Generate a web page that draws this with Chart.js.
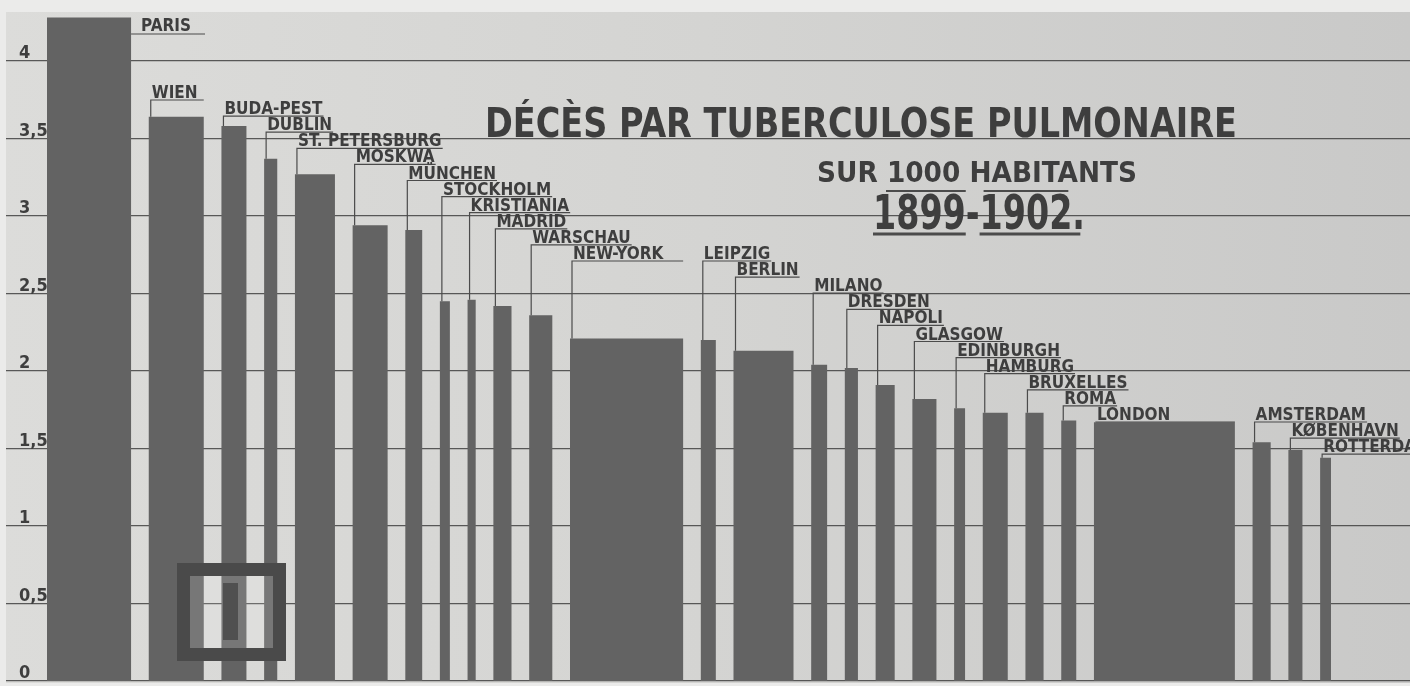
<!DOCTYPE html>
<html>
<head>
<meta charset="utf-8">
<script src="https://cdn.jsdelivr.net/npm/chart.js@4.4.1/dist/chart.umd.min.js"></script>
<style>
  html, body { margin: 0; padding: 0; background: #e8e8e6; }
  #wrap { width: 1410px; height: 686px; }
</style>
</head>
<body>
<div id="wrap"><canvas id="tbChart" width="1410" height="686"></canvas></div>
<script>
// villes, décès par tuberculose pulmonaire sur 1000 habitants (1899-1902)
var cities = ['PARIS', 'WIEN', 'BUDA-PEST', 'DUBLIN', 'ST. PETERSBURG', 'MOSKWA', 'MÜNCHEN',
  'STOCKHOLM', 'KRISTIANIA', 'MADRID', 'WARSCHAU', 'NEW-YORK', 'LEIPZIG', 'BERLIN', 'MILANO',
  'DRESDEN', 'NAPOLI', 'GLASGOW', 'EDINBURGH', 'HAMBURG', 'BRUXELLES', 'ROMA', 'LONDON',
  'AMSTERDAM', 'KØBENHAVN', 'ROTTERDAM'];
var deaths = [4.28, 3.64, 3.58, 3.37, 3.27, 2.94, 2.91, 2.45, 2.46, 2.42, 2.36, 2.21, 2.20,
  2.13, 2.04, 2.02, 1.91, 1.82, 1.76, 1.73, 1.73, 1.68, 1.67, 1.54, 1.49, 1.44];
// largeur des colonnes : population (milliers d'habitants, estimée)
var population = [2690, 1760, 800, 420, 1280, 1120, 540, 320, 260, 580, 740, 3620, 480, 1920,
  510, 420, 610, 770, 350, 800, 580, 480, 4510, 580, 450, 350];
var yTicks = [0, 0.5, 1, 1.5, 2, 2.5, 3, 3.5, 4];

// mise en page
var GAP = 566;                 // espace entre colonnes (même unité que population)
var labelRow = [null, 0, 1, 2, 3, 4, 5, 6, 7, 8, 9, 10, 10, 11, 12, 13, 14, 15, 16, 17, 18,
  19, 20, 20, 21, 22];
var BAR = '#636363', INK = '#3e3e3e', LINE = '#4b4b4b';
var FAMILY = '"DejaVu Sans Condensed", "DejaVu Sans", sans-serif';
var LABEL_FONT = 'bold 17px ' + FAMILY;

// colonnes -> ligne en escalier (bord gauche = valeur, bord droit = 0)
var lefts = [], steps = [];
var pos = 0;
for (var i = 0; i < cities.length; i++) {
  lefts.push(pos);
  steps.push({x: pos, y: deaths[i]});
  pos += population[i];
  steps.push({x: pos, y: 0});
  pos += GAP;
}

function fitText(ctx, text, x, y, w) {      // texte étiré à la largeur w
  var m = ctx.measureText(text).width;
  ctx.save();
  ctx.translate(x, y);
  ctx.scale(w / m, 1);
  ctx.fillText(text, 0, 0);
  ctx.restore();
  return w / m;
}

var paper = {
  id: 'paper',
  beforeDraw: function (chart) {
    var ctx = chart.ctx;
    var g = ctx.createLinearGradient(0, 0, 1410, 0);
    g.addColorStop(0, '#dcdcda');
    g.addColorStop(0.5, '#d4d4d2');
    g.addColorStop(1, '#c9c9c8');
    ctx.save();
    ctx.fillStyle = '#ebebea';
    ctx.fillRect(0, 0, 1410, 686);
    ctx.fillStyle = g;
    ctx.fillRect(6, 12, 1404, 671);
    ctx.restore();
  }
};

var labels = {
  id: 'labels',
  afterDraw: function (chart) {
    var ctx = chart.ctx;
    var xs = chart.scales.x, ys = chart.scales.y;
    ctx.save();
    ctx.fillStyle = INK;
    ctx.strokeStyle = LINE;
    ctx.lineWidth = 1.2;
    ctx.textBaseline = 'alphabetic';

    // graduations
    ctx.font = 'bold 18px ' + FAMILY;
    ys.ticks.forEach(function (t) {
      ctx.fillText(String(t.value).replace('.', ','), 19, ys.getPixelForValue(t.value) - 3);
    });

    // noms des villes
    ctx.font = LABEL_FONT;
    for (var i = 0; i < cities.length; i++) {
      var bl = xs.getPixelForValue(lefts[i]);
      var br = xs.getPixelForValue(lefts[i] + population[i]);
      var top = ys.getPixelForValue(deaths[i]);
      var w = ctx.measureText(cities[i]).width;
      ctx.beginPath();
      if (labelRow[i] === null) {
        ctx.fillText(cities[i], br + 10, 31);
        ctx.moveTo(br, 34); ctx.lineTo(br + w + 24, 34);
      } else {
        var uy = 100 + 16.1 * labelRow[i];
        var lx = bl + 2;
        ctx.fillText(cities[i], lx + 1, uy - 2);
        ctx.moveTo(lx, top); ctx.lineTo(lx, uy);
        ctx.lineTo(Math.max(lx + w + 2, br), uy);
      }
      ctx.stroke();
    }

    // titre
    ctx.font = 'bold 41px ' + FAMILY;
    fitText(ctx, 'DÉCÈS PAR TUBERCULOSE PULMONAIRE', 485, 137, 752);
    ctx.font = 'bold 29px ' + FAMILY;
    fitText(ctx, 'SUR 1000 HABITANTS', 817, 182, 320);
    ctx.font = 'bold 48px ' + FAMILY;
    var k = fitText(ctx, '1899-1902.', 873, 229, 212);
    var w1 = ctx.measureText('1899').width * k;
    var w2 = ctx.measureText('1899-').width * k;
    var w3 = ctx.measureText('1899-1902').width * k;
    ctx.lineWidth = 3;
    ctx.beginPath();
    ctx.moveTo(873, 234); ctx.lineTo(873 + w1, 234);
    ctx.moveTo(873 + w2, 234); ctx.lineTo(873 + w3 + 8, 234);
    ctx.stroke();
    ctx.lineWidth = 2;
    ctx.beginPath();
    ctx.moveTo(886, 191); ctx.lineTo(873 + w1, 191);
    ctx.moveTo(873 + w2 + 4, 191); ctx.lineTo(873 + w3 - 4, 191);
    ctx.stroke();

    // cadre en bas à gauche
    ctx.fillStyle = 'rgba(255,255,255,0.13)';
    ctx.fillRect(190, 576, 83, 72);
    ctx.strokeStyle = '#4a4a4a';
    ctx.lineWidth = 13;
    ctx.strokeRect(183.5, 569.5, 96, 85);
    ctx.fillStyle = '#505050';
    ctx.fillRect(223, 583, 15, 57);
    ctx.restore();
  }
};

var ctx = document.getElementById('tbChart').getContext('2d');
var chart = new Chart(ctx, {
  type: 'line',
  data: {
    datasets: [{
      data: steps,
      stepped: true,
      fill: 'origin',
      backgroundColor: BAR,
      borderWidth: 0,
      pointRadius: 0
    }]
  },
  options: {
    responsive: false,
    animation: false,
    events: [],
    layout: {padding: {left: 6, right: 0, top: 0, bottom: 5}},
    plugins: {legend: {display: false}, tooltip: {enabled: false}},
    scales: {
      x: {
        type: 'linear',
        display: false,
        min: -41 * 32,
        max: -41 * 32 + 1404 * 32
      },
      y: {
        min: 0,
        max: 681 / 155,
        z: 1,
        afterBuildTicks: function (axis) {
          axis.ticks = yTicks.map(function (v) { return {value: v}; });
        },
        ticks: {display: false},
        border: {display: false},
        grid: {color: 'rgba(55,55,55,0.8)', lineWidth: 1.3, drawTicks: false}
      }
    }
  },
  plugins: [paper, labels]
});
</script>
</body>
</html>
